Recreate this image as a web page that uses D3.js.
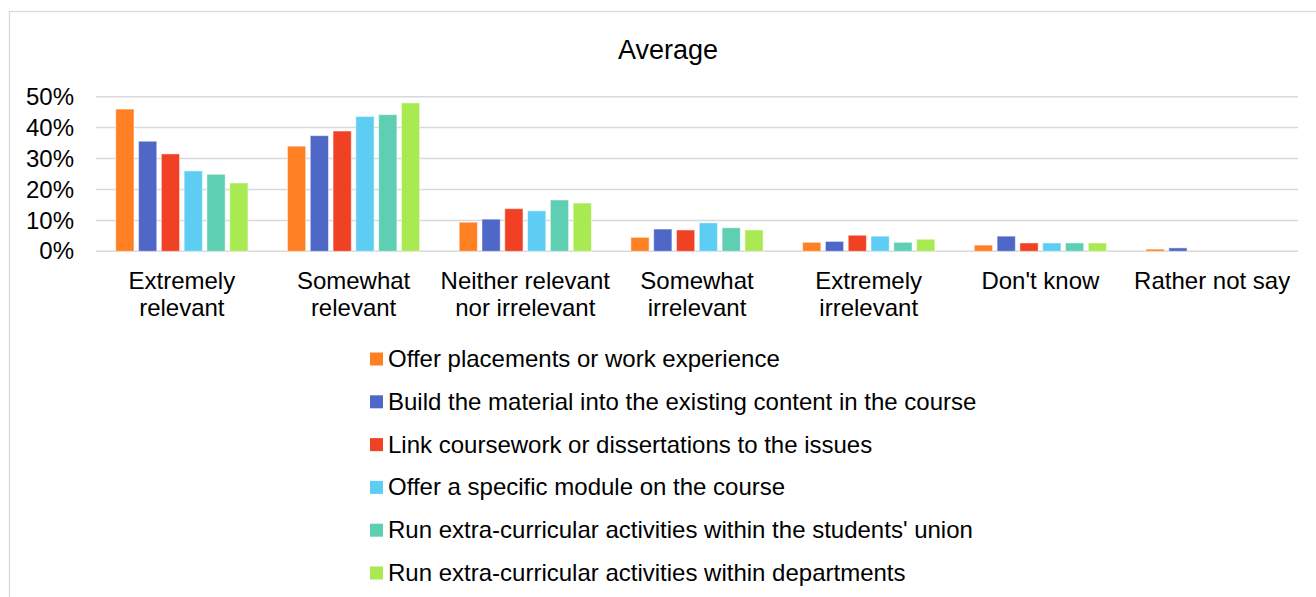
<!DOCTYPE html>
<html>
<head>
<meta charset="utf-8">
<script src="https://cdn.jsdelivr.net/npm/d3@7"></script>
<style>
  body { margin: 0; background: #fff; }
  svg text { font-family: "Liberation Sans", Arial, sans-serif; fill: #000; }
</style>
</head>
<body>
<div id="chart"></div>
<script>
// data
var categories = ["Extremely\nrelevant", "Somewhat\nrelevant", "Neither relevant\nnor irrelevant",
  "Somewhat\nirrelevant", "Extremely\nirrelevant", "Don't know", "Rather not say"];
var seriesNames = [
  "Offer placements or work experience",
  "Build the material into the existing content in the course",
  "Link coursework or dissertations to the issues",
  "Offer a specific module on the course",
  "Run extra-curricular activities within the students' union",
  "Run extra-curricular activities within departments"
];
var placements = [46.0, 34.0, 9.4, 4.5, 2.9, 2.0, 0.7];
var buildMaterial = [35.6, 37.4, 10.4, 7.2, 3.2, 4.9, 1.1];
var linkCoursework = [31.5, 38.9, 13.8, 6.9, 5.2, 2.7, 0];
var specificModule = [26.0, 43.6, 13.1, 9.2, 4.9, 2.7, 0];
var studentsUnion = [24.9, 44.2, 16.6, 7.6, 2.9, 2.7, 0];
var departments = [22.1, 48.0, 15.6, 6.9, 3.9, 2.7, 0];
var yTicks = [0, 10, 20, 30, 40, 50];
var colors = ["#fe8022", "#4f68c8", "#f04125", "#5ecdf3", "#5ecfb2", "#a9ea52"];

var allSeries = [placements, buildMaterial, linkCoursework, specificModule, studentsUnion, departments];

var width = 1316,
  height = 597;

var svg = d3.select("#chart").append("svg")
  .attr("width", width)
  .attr("height", height);

// chart area border
svg.append("rect")
  .attr("x", 9.5).attr("y", 11.5)
  .attr("width", 1330).attr("height", 620)
  .attr("fill", "none")
  .attr("stroke", "#d9d9d9")
  .attr("stroke-width", 1.3);

svg.append("text")
  .attr("x", 668).attr("y", 59)
  .attr("text-anchor", "middle")
  .style("font-size", "27px")
  .text("Average");

var x0 = d3.scaleBand()
  .domain(categories)
  .range([96, 1298])
  .paddingInner(0.23)
  .paddingOuter(0.115);

var x1 = d3.scaleBand()
  .domain(d3.range(seriesNames.length))
  .range([0, x0.bandwidth()])
  .paddingInner(0.2);

var y = d3.scaleLinear().domain([0, 50]).range([251.3, 96.7]);

// gridlines
svg.append("g")
  .selectAll("line")
  .data(yTicks)
  .join("line")
  .attr("x1", 96).attr("x2", 1298)
  .attr("y1", function (d) { return y(d); })
  .attr("y2", function (d) { return y(d); })
  .attr("stroke", "#d9d9d9")
  .attr("stroke-width", 1.5);

// y axis labels
var yAxis = d3.axisLeft(y).tickValues(yTicks).tickSize(0).tickPadding(0)
  .tickFormat(function (d) { return d + "%"; });
var yg = svg.append("g").attr("transform", "translate(74,0)").call(yAxis);
yg.select(".domain").remove();
yg.selectAll("text")
  .style("font-size", "24px")
  .style("font-family", "'Liberation Sans', Arial, sans-serif")
  .attr("fill", "#000");

// bars
var groups = svg.append("g")
  .selectAll("g")
  .data(categories)
  .join("g")
  .attr("transform", function (d) { return "translate(" + x0(d) + ",0)"; });

groups.selectAll("rect")
  .data(function (d, i) {
    return allSeries.map(function (s, j) { return { s: j, v: s[i] }; });
  })
  .join("rect")
  .filter(function (d) { return d.v > 0; })
  .attr("x", function (d) { return x1(d.s); })
  .attr("width", x1.bandwidth())
  .attr("y", function (d) { return y(d.v); })
  .attr("height", function (d) { return y(0) - y(d.v); })
  .attr("fill", function (d) { return colors[d.s]; })
  .attr("stroke", "#fff")
  .attr("stroke-opacity", 0.5)
  .attr("stroke-width", 1);

// category labels
var labels = svg.append("g")
  .selectAll("text")
  .data(categories)
  .join("text")
  .attr("text-anchor", "middle")
  .style("font-size", "24px")
  .attr("x", function (d) { return x0(d) + x0.bandwidth() / 2; })
  .attr("y", 289);

labels.selectAll("tspan")
  .data(function (d) { return d.split("\n"); })
  .join("tspan")
  .attr("x", function () { return d3.select(this.parentNode).attr("x"); })
  .attr("dy", function (d, i) { return i === 0 ? 0 : 27; })
  .text(function (d) { return d; });

// legend
var legend = svg.append("g")
  .selectAll("g")
  .data(seriesNames)
  .join("g")
  .attr("transform", function (d, i) { return "translate(370," + (359 + i * 42.8) + ")"; });

legend.append("rect")
  .attr("x", 0).attr("y", -6.5)
  .attr("width", 13).attr("height", 13)
  .attr("fill", function (d, i) { return colors[i]; });

legend.append("text")
  .attr("x", 18).attr("y", 8)
  .style("font-size", "24px")
  .text(function (d) { return d; });
</script>
</body>
</html>
